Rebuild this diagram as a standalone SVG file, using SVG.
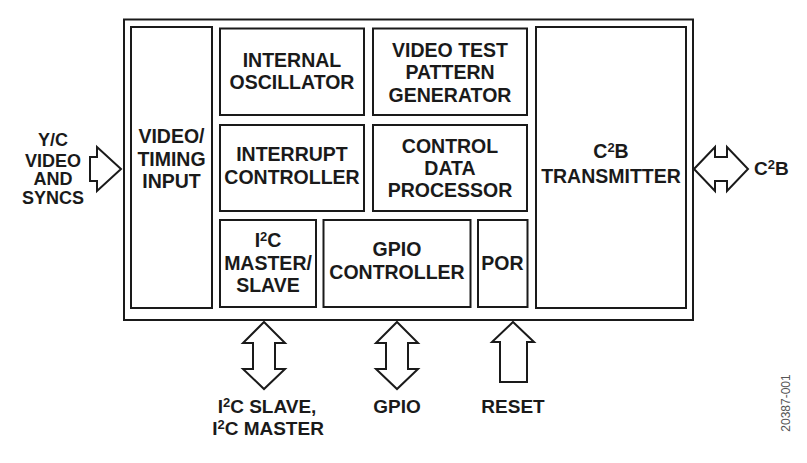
<svg xmlns="http://www.w3.org/2000/svg" width="807" height="463" viewBox="0 0 807 463">
<style>
.box{fill:#fff;stroke:#1a1a1a;stroke-width:2}
.arr{fill:#fff;stroke:#1a1a1a;stroke-width:2;stroke-linejoin:miter}
text{font-family:"Liberation Sans",Arial,sans-serif;font-weight:bold;font-size:19.5px;fill:#1a1a1a;text-anchor:middle}
.ext{font-size:18px}
.bot{font-size:19px}
.sup{font-size:13px}
.id{font-weight:normal;font-size:12px;fill:#555}
</style>
<rect width="807" height="463" fill="#fff"/>
<g id="outer"><rect class="box" x="124" y="19.5" width="569" height="300.5"/></g>
<g id="video-timing-input">
<rect class="box" x="131" y="27" width="81" height="281"/>
<text x="171.5" y="143">VIDEO/</text>
<text x="171.5" y="165.5">TIMING</text>
<text x="171.5" y="188">INPUT</text>
</g>
<g id="internal-oscillator">
<rect class="box" x="220" y="28.5" width="144" height="86.5"/>
<text x="292" y="67">INTERNAL</text>
<text x="292" y="89">OSCILLATOR</text>
</g>
<g id="video-test-pattern">
<rect class="box" x="373" y="28.5" width="154" height="86.5"/>
<text x="450" y="57">VIDEO TEST</text>
<text x="450" y="79">PATTERN</text>
<text x="450" y="101.5">GENERATOR</text>
</g>
<g id="interrupt-controller">
<rect class="box" x="220" y="125" width="144" height="86"/>
<text x="292" y="161">INTERRUPT</text>
<text x="292" y="184">CONTROLLER</text>
</g>
<g id="control-data-processor">
<rect class="box" x="373" y="125" width="154" height="86"/>
<text x="450" y="153">CONTROL</text>
<text x="450" y="175">DATA</text>
<text x="450" y="197">PROCESSOR</text>
</g>
<g id="i2c-master-slave">
<rect class="box" x="220" y="220" width="96" height="87"/>
<text x="268" y="247">I<tspan class="sup" dy="-6">2</tspan><tspan dy="6">C</tspan></text>
<text x="268" y="270">MASTER/</text>
<text x="268" y="292">SLAVE</text>
</g>
<g id="gpio-controller">
<rect class="box" x="323.5" y="220" width="147" height="87"/>
<text x="397" y="256">GPIO</text>
<text x="397" y="279">CONTROLLER</text>
</g>
<g id="por">
<rect class="box" x="478" y="220" width="49.5" height="87"/>
<text x="502.5" y="270">POR</text>
</g>
<g id="c2b-transmitter">
<rect class="box" x="536" y="27" width="150" height="281"/>
<text x="611" y="158">C<tspan class="sup" dy="-6">2</tspan><tspan dy="6">B</tspan></text>
<text x="611" y="183">TRANSMITTER</text>
</g>
<g id="connectors">
<polygon class="arr" points="90,157 97,157 97,147 121,169 97,191 97,181 90,181"/>
<polygon class="arr" points="694,169 715,147 715,157 727,157 727,147 748,169 727,191 727,181 715,181 715,191"/>
<polygon class="arr" points="264,322 285,343 275,343 275,369 285,369 264,389 243,369 253,369 253,343 243,343"/>
<polygon class="arr" points="397,322 418,343 408,343 408,369 418,369 397,389 376,369 386,369 386,343 376,343"/>
<polygon class="arr" points="513,322 534,342 527,342 527,382 500,382 500,342 492,342"/>
</g>
<g id="labels">
<text class="ext" x="53" y="146">Y/C</text>
<text class="ext" x="53" y="166.5">VIDEO</text>
<text class="ext" x="53" y="185">AND</text>
<text class="ext" x="53" y="203.5">SYNCS</text>
<text class="bot" x="754" y="175" style="text-anchor:start">C<tspan class="sup" dy="-6">2</tspan><tspan dy="6">B</tspan></text>
<text class="bot" x="267" y="413">I<tspan class="sup" dy="-6">2</tspan><tspan dy="6">C SLAVE,</tspan></text>
<text class="bot" x="268" y="435">I<tspan class="sup" dy="-6">2</tspan><tspan dy="6">C MASTER</tspan></text>
<text class="bot" x="397" y="413">GPIO</text>
<text class="bot" x="513" y="413">RESET</text>
<text class="id" transform="translate(790,403) rotate(-90)">20387-001</text>
</g>
</svg>
